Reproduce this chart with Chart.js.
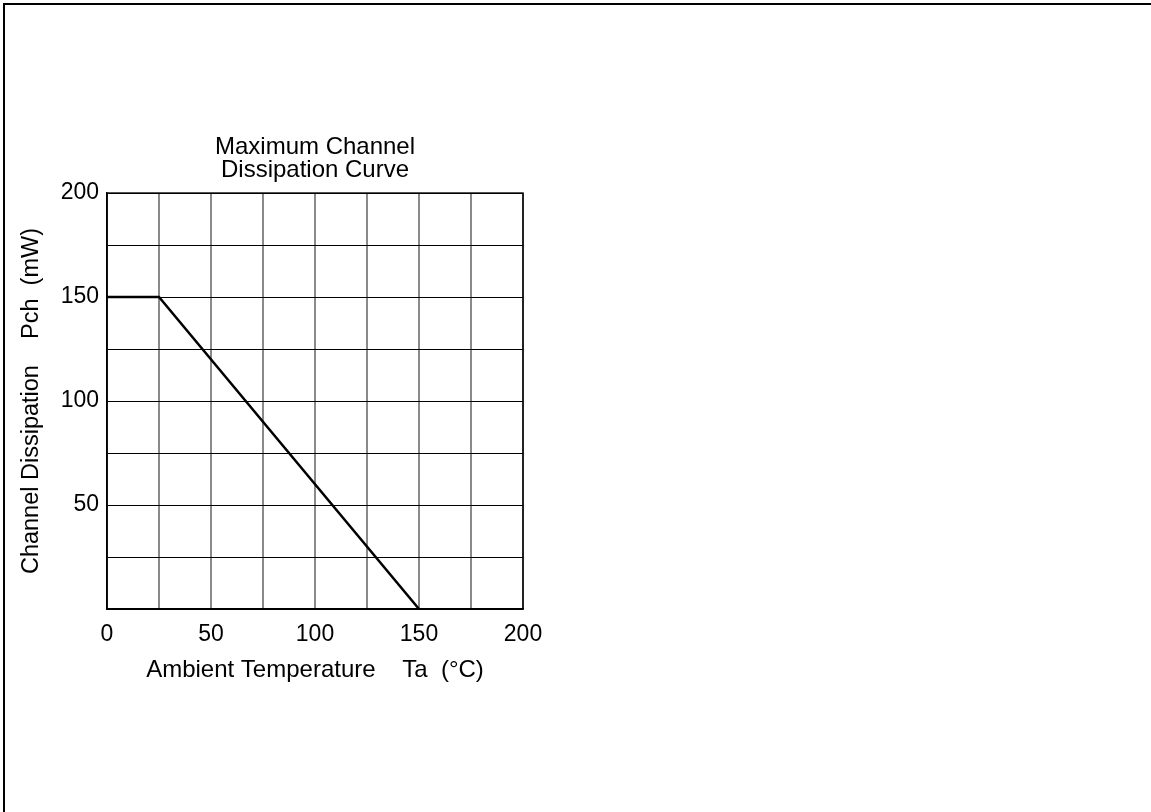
<!DOCTYPE html>
<html>
<head>
<meta charset="utf-8">
<script src="https://cdn.jsdelivr.net/npm/chart.js@4.4.1/dist/chart.umd.min.js"></script>
<style>
  html, body { margin: 0; padding: 0; background: #fff; }
  #wrap { position: relative; width: 1151px; height: 812px; overflow: hidden; }
  #frame { position: absolute; left: 3px; top: 3px; width: 1200px; height: 900px;
           border-left: 2px solid #000; border-top: 2px solid #000; box-sizing: border-box; }
  #c { position: absolute; left: 0; top: 0; }
</style>
</head>
<body>
<div id="wrap">
  <div id="frame"></div>
  <canvas id="c" width="1151" height="812"></canvas>
</div>
<script>
const temperatureC = [0, 25, 150];
const dissipationMW = [150, 150, 0];
const xTickLabels = [0, 50, 100, 150, 200];
const yTickLabels = [50, 100, 150, 200];
const titleLines = ['Maximum Channel', 'Dissipation Curve'];
const xTitle = 'Ambient Temperature    Ta  (°C)';
const yTitle = 'Channel Dissipation    Pch  (mW)';

const FONT = 'Arial, "Liberation Sans", Helvetica, sans-serif';

const framePlugin = {
  id: 'frame',
  afterDraw(chart) {
    const a = chart.chartArea;
    const ctx = chart.ctx;
    ctx.save();
    ctx.strokeStyle = '#000';
    ctx.lineWidth = 1.5;
    ctx.strokeRect(a.left, a.top, a.right - a.left, a.bottom - a.top);
    ctx.restore();
  }
};

new Chart(document.getElementById('c'), {
  type: 'scatter',
  data: {
    datasets: [{
      data: temperatureC.map((t, i) => ({ x: t, y: dissipationMW[i] })),
      showLine: true,
      borderColor: '#000',
      borderWidth: 2.5,
      pointRadius: 0,
      fill: false,
      tension: 0
    }]
  },
  options: {
    responsive: false,
    animation: false,
    layout: { padding: { left: 17, right: 628, top: 136, bottom: 127 } },
    plugins: {
      legend: { display: false },
      tooltip: { enabled: false },
      title: {
        display: true,
        text: titleLines,
        fullSize: false,
        color: '#000',
        font: { family: FONT, size: 24, weight: 'normal', lineHeight: 0.96 },
        padding: { top: 0, bottom: 11 }
      }
    },
    scales: {
      x: {
        type: 'linear',
        min: 0, max: 200,
        afterFit(s) { s.height = 76; },
        grid: { color: '#8a8a8a', lineWidth: 2, drawTicks: false },
        border: { display: true, color: '#000', width: 1.5 },
        ticks: {
          stepSize: 25,
          padding: 12,
          color: '#000',
          maxRotation: 0,
          font: { family: FONT, size: 23 },
          callback: (v) => xTickLabels.includes(v) ? String(v) : ''
        },
        title: {
          display: true,
          text: xTitle,
          color: '#000',
          padding: 0,
          font: { family: FONT, size: 24, lineHeight: 1.2 }
        }
      },
      y: {
        type: 'linear',
        min: 0, max: 200,
        afterFit(s) { s.width = 90; },
        grid: { color: '#000', lineWidth: 1, drawTicks: false },
        border: { display: true, color: '#000', width: 1.5 },
        ticks: {
          stepSize: 25,
          padding: 8,
          color: '#000',
          font: { family: FONT, size: 23 },
          callback: (v) => yTickLabels.includes(v) ? String(v) : ''
        },
        title: {
          display: true,
          text: yTitle,
          color: '#000',
          padding: 0,
          font: { family: FONT, size: 23.5, lineHeight: 1.2 }
        }
      }
    }
  },
  plugins: [framePlugin]
});
</script>
</body>
</html>
